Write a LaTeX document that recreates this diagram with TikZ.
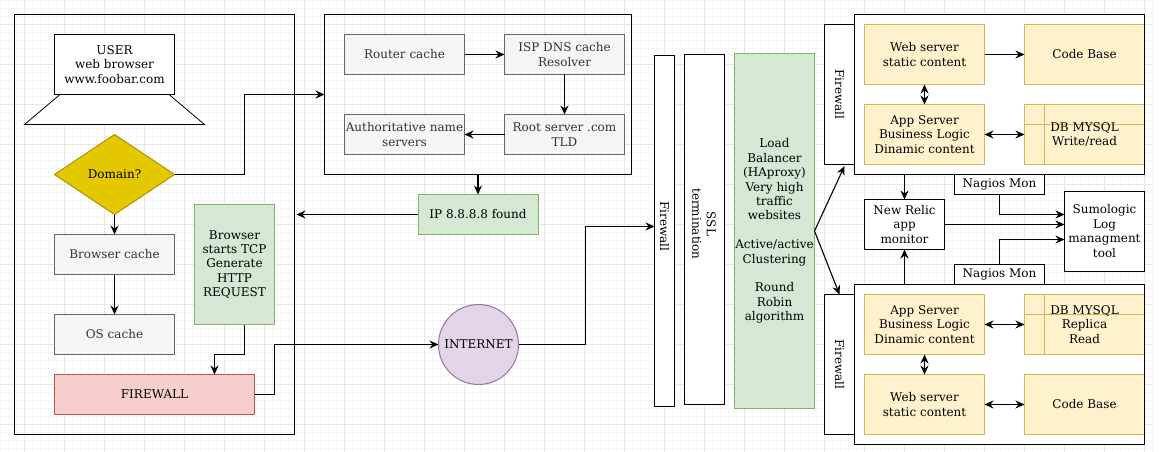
\documentclass[tikz,border=0pt]{standalone}
\usepackage{fontspec}
\setmainfont{DejaVu Serif}
\usetikzlibrary{arrows.meta,shapes.geometric}
\definecolor{gridmajor}{HTML}{E6E6E6}
\definecolor{gridminor}{HTML}{F6F6F6}
\definecolor{greenfill}{HTML}{D5E8D4}
\definecolor{greenline}{HTML}{82B366}
\definecolor{appfill}{HTML}{FFF2CC}
\definecolor{appline}{HTML}{D6B656}
\begin{document}
\begin{tikzpicture}[
    x=1pt, y=-1pt,
    every node/.style={font=\fontsize{12}{14.4}\selectfont, align=center, inner sep=0pt, outer sep=0pt},
    block/.style={rectangle, draw, line width=1pt, minimum width=120pt, minimum height=40pt},
    plainbox/.style={block, fill=white},
    greybox/.style={block, fill=black!4, draw=black!60, text=black!80},
    greenbox/.style={block, fill=greenfill, draw=greenline},
    appbox/.style={block, minimum height=60pt, fill=appfill, draw=appline},
    dbbox/.style={appbox, path picture={
        \draw[line width=1pt, draw=appline]
            ([xshift=20pt]path picture bounding box.north west) -- ([xshift=20pt]path picture bounding box.south west)
            ([yshift=-20pt]path picture bounding box.north west) -- ([yshift=-20pt]path picture bounding box.north east);}},
    sidetext/.style={rotate=-90},
    arrow/.style={-{Stealth[length=9pt, width=8pt, inset=3pt]}, line width=1.1pt},
    twoway/.style={{Stealth[length=9pt, width=8pt, inset=3pt]}-{Stealth[length=9pt, width=8pt, inset=3pt]}, line width=1.1pt}
]
\useasboundingbox (0,0) rectangle (1162,452);

% Grid
\foreach \gx in {0.5,8.5,...,1152.5} \draw[gridminor, line width=1pt] (\gx,0) -- (\gx,452);
\foreach \gy in {0.5,8.5,...,448.5} \draw[gridminor, line width=1pt] (0,\gy) -- (1152.5,\gy);
\foreach \gx in {24.5,64.5,...,1144.5} \draw[gridmajor, line width=1pt] (\gx,0) -- (\gx,452);
\foreach \gy in {24.5,64.5,...,424.5} \draw[gridmajor, line width=1pt] (0,\gy) -- (1152.5,\gy);

% Browser side
\node[block, minimum width=280pt, minimum height=420pt] (client) at (154.5,224.5) {};
\draw[fill=white, line width=0.8pt] (60,94.5) -- (24.5,124.5) -- (204.5,124.5) -- (169,94.5) -- cycle;
\node[plainbox, minimum height=60pt] (user) at (114.5,64.5) {USER\\web browser\\www.foobar.com};
\node[diamond, draw={rgb,255:red,176;green,149;blue,0}, fill={rgb,255:red,227;green,200;blue,0}, line width=1pt, minimum width=120pt, minimum height=80pt] (domain) at (114.5,174.5) {Domain?};
\node[greybox, below of=domain, node distance=80pt] (browsercache) {Browser cache};
\node[greybox, below of=browsercache, node distance=80pt] (oscache) {OS cache};
\node[block, minimum width=200pt, fill={rgb,255:red,248;green,206;blue,204}, draw={rgb,255:red,184;green,84;blue,80}] (firewall) at (154.5,394.5) {FIREWALL};
\node[greenbox, minimum width=80pt, minimum height=120pt] (tcp) at (234.5,264.5) {Browser\\starts TCP\\Generate\\HTTP\\REQUEST};

% DNS lookup
\node[block, minimum width=307pt, minimum height=160pt] (dns) at (478,94.5) {};
\node[greybox] (router) at (404.5,54.5) {Router cache};
\node[greybox, right of=router, node distance=160pt] (isp) {ISP DNS cache\\Resolver};
\node[greybox, below of=isp, node distance=80pt] (root) {Root server .com\\TLD};
\node[greybox, left of=root, node distance=160pt] (auth) {Authoritative name\\servers};
\node[greenbox, below of=dns, node distance=120pt] (found) {IP 8.8.8.8 found};
\node[circle, draw={rgb,255:red,150;green,115;blue,166}, fill={rgb,255:red,225;green,213;blue,231}, line width=1pt, minimum size=80pt] (internet) at (478.5,344.5) {INTERNET};

% Edge of the site
\node[plainbox, minimum width=20pt, minimum height=351pt] (fwmid) at (664.5,231) {};
\node[sidetext] (fwmidtext) at (664.5,226.5) {Firewall};
\node[plainbox, minimum width=40pt, minimum height=350pt] (ssl) at (704.5,229.5) {};
\node[sidetext] (ssltext) at (704,224) {SSL\\termination};
\node[greenbox, minimum width=80pt, minimum height=355pt] (balancer) at (774.5,231) {Load\\Balancer\\(HAproxy)\\Very high\\traffic\\websites\\\\Active/active\\Clustering\\\\Round\\Robin\\algorithm};

% Upper servers
\node[plainbox, minimum width=290pt, minimum height=160pt] (upper) at (999.5,94.5) {};
\node[plainbox, minimum width=30pt, minimum height=140pt] (fwup) at (839.5,94.5) {};
\node[sidetext] (fwuptext) at (fwup) {Firewall};
\node[appbox] (webup) at (924.5,54.5) {Web server\\static content};
\node[appbox, right of=webup, node distance=160pt] (codeup) {Code Base};
\node[appbox, below of=webup, node distance=80pt] (appup) {App Server\\Business Logic\\Dinamic content};
\node[dbbox, below of=codeup, node distance=80pt] (dbup) {DB MYSQL\\Write/read};
\draw[line width=1pt] (upper.north west) rectangle (upper.south east);

% Lower servers
\node[plainbox, minimum width=290pt, minimum height=160pt] (lower) at (999.5,364.5) {};
\node[plainbox, minimum width=30pt, minimum height=140pt] (fwdown) at (839.5,364.5) {};
\node[sidetext] (fwdowntext) at (fwdown) {Firewall};
\node[appbox] (appdown) at (924.5,324.5) {App Server\\Business Logic\\Dinamic content};
\node[dbbox, right of=appdown, node distance=160pt] (dbdown) {DB MYSQL\\Replica\\Read};
\node[appbox, below of=appdown, node distance=80pt] (webdown) {Web server\\static content};
\node[appbox, below of=dbdown, node distance=80pt] (codedown) {Code Base};
\draw[line width=1pt] (lower.north west) rectangle (lower.south east);

% Monitoring
\node[plainbox, minimum width=90pt, minimum height=20pt] (nagiosup) at (999.5,184.5) {Nagios Mon};
\node[plainbox, minimum width=90pt, minimum height=20pt] (nagiosdown) at (999.5,274.5) {Nagios Mon};
\node[plainbox, minimum width=80pt, minimum height=50pt] (relic) at (904.5,224.5) {New Relic\\app\\monitor};
\node[plainbox, minimum width=80pt, minimum height=80pt] (sumo) at (1104.5,231) {Sumologic\\Log\\managment\\tool};

\coordinate (sumoa) at (1064.5,214.5);
\coordinate (sumob) at (1064.5,224.5);
\coordinate (sumoc) at (1064.5,239.5);
\coordinate (fwmidin) at (654.5,226.5);
\coordinate (fwuptip) at (844.5,166);

% Arrows on the browser side
\draw[arrow] (domain.east) -- ++(70,0) |- (dns.west);
\draw[arrow] (domain.south) -- (browsercache.north);
\draw[arrow] (browsercache.south) -- (oscache.north);
\draw[arrow] ([xshift=10pt]tcp.south) -- ++(0,30) -| ([xshift=60pt]firewall.north);
\draw[arrow] (firewall.east) -- ++(20,0) |- (internet.west);
\draw[arrow] (internet.east) -- ++(67,0) |- (fwmidin);

% Arrows of the lookup
\draw[arrow] (router) -- (isp);
\draw[arrow] (isp) -- (root);
\draw[arrow] (root) -- (auth);
\draw[arrow, line width=1.8pt] (dns.south) -- (found.north);
\draw[arrow] (found.west) -- ([xshift=2pt]client.east |- found.west);

% Arrows of the servers
\draw[arrow] (balancer.east) -- (fwuptip);
\draw[arrow] (balancer.east) -- (fwdown.north);
\draw[arrow] (webup) -- (codeup);
\draw[twoway] (webup) -- (appup);
\draw[twoway] (appup) -- (dbup);
\draw[twoway] (appdown) -- (dbdown);
\draw[twoway] (appdown) -- (webdown);
\draw[twoway] (webdown) -- (codedown);
\draw[arrow] (upper.south -| relic) -- (relic.north);
\draw[arrow] (lower.north -| relic) -- (relic.south);
\draw[arrow] (relic.east |- sumob) -- (sumob);
\draw[arrow] (nagiosup.south) |- (sumoa);
\draw[arrow] (nagiosdown.north) |- (sumoc);

\end{tikzpicture}
\end{document}
